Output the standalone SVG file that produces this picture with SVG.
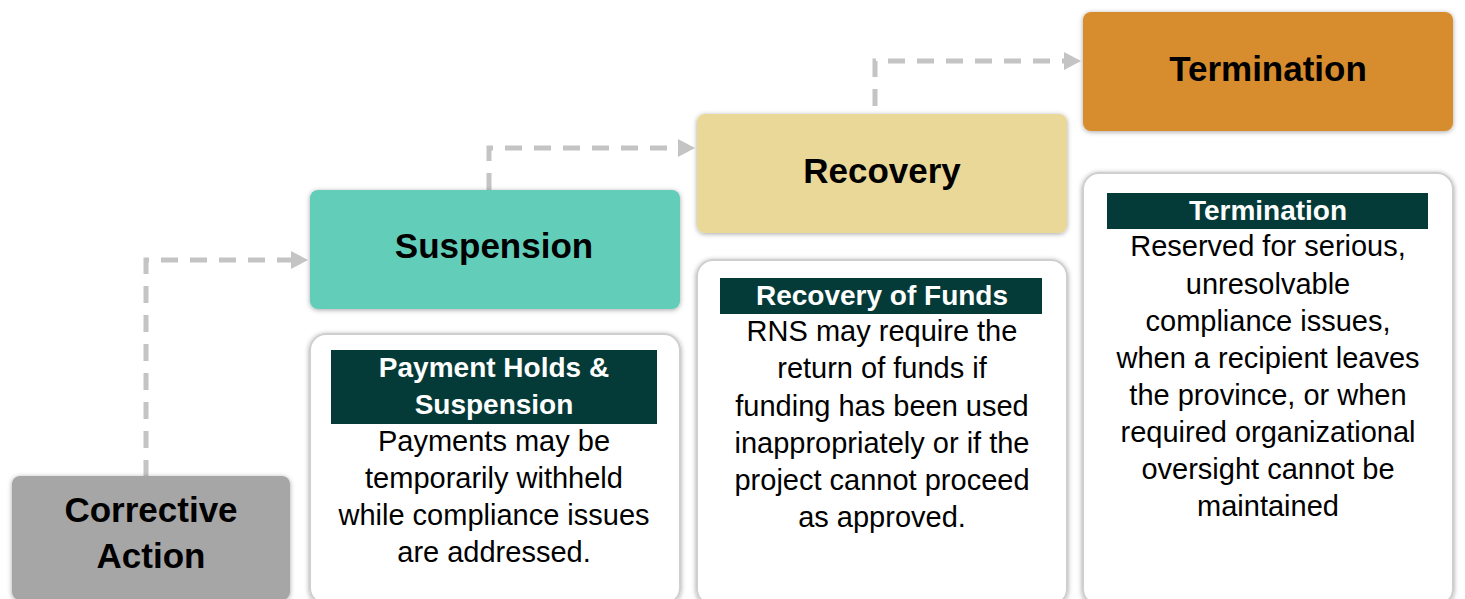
<svg xmlns="http://www.w3.org/2000/svg" width="1465" height="599" viewBox="0 0 1465 599">
<style>
.t{font-family:"Liberation Sans",Arial,sans-serif;text-anchor:middle;fill:#000}
.title{font-size:35px;font-weight:bold}
.hd{font-size:28px;font-weight:bold;fill:#fff}
.bd{font-size:29px}
.card{fill:#fff;stroke:#cfcfcf;stroke-width:2}
.bar{fill:#043b38}
.conn{fill:none;stroke:#c4c4c4;stroke-width:5;stroke-dasharray:17 12}
.head{fill:#c4c4c4}
</style>
<defs>
<filter id="sh" x="-10%" y="-10%" width="120%" height="120%">
<feDropShadow dx="0" dy="1" stdDeviation="2.5" flood-color="#000" flood-opacity="0.35"/>
</filter>
</defs>
<g id="connectors">
<path class="conn" d="M146,477 V260 H293"/>
<path class="conn" d="M489,190 V148 H680"/>
<path class="conn" d="M875,106 V61 H1066"/>
<path class="head" d="M291,251 L308,260 L291,269 Z"/>
<path class="head" d="M678,139 L695,148 L678,157 Z"/>
<path class="head" d="M1064,52 L1081,61 L1064,70 Z"/>
</g>
<g id="corrective">
<rect x="12" y="476" width="278" height="124" rx="8" fill="#a6a6a6" filter="url(#sh)"/>
<text class="t title" x="151" y="522">Corrective</text>
<text class="t title" x="151" y="568">Action</text>
</g>
<g id="suspension">
<rect x="310" y="190" width="370" height="119" rx="8" fill="#62cdb9" filter="url(#sh)"/>
<text class="t title" x="494" y="258">Suspension</text>
</g>
<g id="suspension-card">
<rect class="card" x="310" y="334" width="370" height="270" rx="16" filter="url(#sh)"/>
<rect class="bar" x="331" y="350" width="326" height="74"/>
<text class="t hd" x="494" y="377">Payment Holds &amp;</text>
<text class="t hd" x="494" y="414">Suspension</text>
<text class="t bd" x="494" y="451">Payments may be</text>
<text class="t bd" x="494" y="488">temporarily withheld</text>
<text class="t bd" x="494" y="525">while compliance issues</text>
<text class="t bd" x="494" y="562">are addressed.</text>
</g>
<g id="recovery">
<rect x="697" y="114" width="370" height="119" rx="8" fill="#e9d898" filter="url(#sh)"/>
<text class="t title" x="882" y="183">Recovery</text>
</g>
<g id="recovery-card">
<rect class="card" x="697" y="260" width="370" height="345" rx="16" filter="url(#sh)"/>
<rect class="bar" x="720" y="278" width="322" height="36"/>
<text class="t hd" x="882" y="305">Recovery of Funds</text>
<text class="t bd" x="882" y="341">RNS may require the</text>
<text class="t bd" x="882" y="378">return of funds if</text>
<text class="t bd" x="882" y="416">funding has been used</text>
<text class="t bd" x="882" y="453">inappropriately or if the</text>
<text class="t bd" x="882" y="490">project cannot proceed</text>
<text class="t bd" x="882" y="527">as approved.</text>
</g>
<g id="termination">
<rect x="1083" y="12" width="370" height="119" rx="8" fill="#d78c2e" filter="url(#sh)"/>
<text class="t title" x="1268" y="81">Termination</text>
</g>
<g id="termination-card">
<rect class="card" x="1083" y="173" width="370" height="432" rx="16" filter="url(#sh)"/>
<rect class="bar" x="1107" y="193" width="321" height="36"/>
<text class="t hd" x="1268" y="220">Termination</text>
<text class="t bd" x="1268" y="256">Reserved for serious,</text>
<text class="t bd" x="1268" y="294">unresolvable</text>
<text class="t bd" x="1268" y="331">compliance issues,</text>
<text class="t bd" x="1268" y="368">when a recipient leaves</text>
<text class="t bd" x="1268" y="405">the province, or when</text>
<text class="t bd" x="1268" y="442">required organizational</text>
<text class="t bd" x="1268" y="479">oversight cannot be</text>
<text class="t bd" x="1268" y="516">maintained</text>
</g>
</svg>
